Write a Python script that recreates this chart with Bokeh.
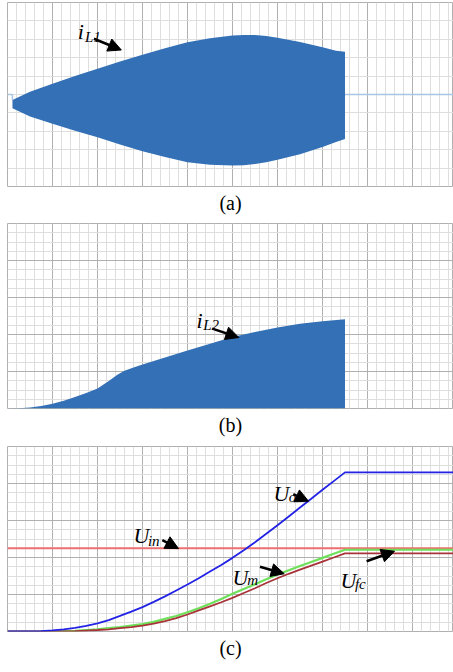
from bokeh.plotting import figure
from bokeh.layouts import column
from bokeh.models import SingleIntervalTicker, Arrow, NormalHead, Title
from bokeh.core.properties import value
from bokeh.embed import file_html
from bokeh.resources import INLINE

# ---- waveform data (time in grid divisions) ----
# (a) inductor current iL1: switching envelope (upper / lower edge)
t_a = [0.11, 0.5, 1.0, 1.5, 2.0, 2.5, 3.0, 3.5, 4.0, 4.5, 5.0, 5.25, 5.5, 5.75, 6.0, 6.5, 7.0, 7.3, 7.5]
iL1_upper = [-0.30, 0.15, 0.58, 1.00, 1.40, 1.80, 2.16, 2.52, 2.84, 3.06, 3.20, 3.24, 3.24, 3.18, 3.08, 2.85, 2.57, 2.38, 2.32]
iL1_lower = [-0.75, -1.20, -1.59, -1.97, -2.32, -2.72, -3.08, -3.40, -3.68, -3.82, -3.86, -3.84, -3.78, -3.68, -3.55, -3.25, -2.86, -2.58, -2.42]
# idle current before start and after stop
t_idle_pre = [0.0, 0.11]
iL1_idle_pre = [0.0, 0.0]
t_idle_post = [7.5, 9.92]
iL1_idle_post = [0.0, 0.0]

# (b) inductor current iL2 envelope
t_b = [0.0, 0.25, 0.5, 0.75, 1.0, 1.25, 1.5, 1.75, 2.0, 2.25, 2.45, 2.6, 2.8, 3.0,
       3.5, 4.0, 4.5, 5.0, 5.5, 6.0, 6.5, 7.0, 7.5]
iL2 = [0.0, 0.01, 0.03, 0.07, 0.13, 0.21, 0.31, 0.42, 0.54, 0.74, 0.92, 1.02, 1.11, 1.19,
       1.38, 1.57, 1.75, 1.93, 2.07, 2.19, 2.29, 2.36, 2.41]

# (c) voltages
t_c = [0.0, 0.25, 0.5, 0.75, 1.0, 1.25, 1.5, 1.75, 2.0, 2.25, 2.5, 2.75, 3.0, 3.25, 3.5, 3.75,
       4.0, 4.25, 4.5, 4.75, 5.0, 5.25, 5.5, 5.75, 6.0, 6.25, 6.5, 6.75, 7.0, 7.25, 7.5, 9.92]
U_o = [0.0, 0.0, 0.0, 0.01, 0.03, 0.06, 0.10, 0.155, 0.22, 0.31, 0.42, 0.535, 0.66, 0.80, 0.95, 1.11,
       1.27, 1.44, 1.62, 1.80, 1.99, 2.195, 2.41, 2.64, 2.87, 3.11, 3.35, 3.59, 3.83, 4.065, 4.30, 4.30]
U_m = [0.0, 0.0, 0.0, 0.0, 0.0, 0.01, 0.02, 0.04, 0.06, 0.09, 0.12, 0.16, 0.20, 0.26, 0.34, 0.42,
       0.52, 0.63, 0.75, 0.88, 1.02, 1.15, 1.28, 1.41, 1.54, 1.655, 1.77, 1.88, 1.99, 2.10, 2.21, 2.21]
U_fc = [0.0, 0.0, 0.0, 0.0, 0.0, 0.005, 0.01, 0.025, 0.04, 0.06, 0.09, 0.12, 0.16, 0.21, 0.28, 0.36,
        0.46, 0.57, 0.68, 0.79, 0.91, 1.04, 1.17, 1.31, 1.44, 1.56, 1.67, 1.78, 1.89, 2.00, 2.11, 2.11]
t_in = [0.0, 9.92]
U_in = [2.25, 2.25]

SERIF = "'Liberation Serif'"
MAJOR = "#b0b0b0"
MINOR = "#dedede"
FILL = "#3370b6"


def panel(height, y0, y1, bottom, light_y=False, y_minor=4):
    p = figure(width=453, height=height, x_range=(0, 446 / 45), y_range=(y0, y1),
               output_backend="svg", toolbar_location=None,
               min_border_left=7, min_border_right=0, min_border_top=2,
               min_border_bottom=bottom)
    p.axis.visible = False
    xt = SingleIntervalTicker(interval=1, num_minor_ticks=5)
    yt = SingleIntervalTicker(interval=1, num_minor_ticks=(0 if light_y else y_minor))
    p.xaxis.ticker = xt
    p.yaxis.ticker = yt
    p.xgrid.ticker = xt
    p.ygrid.ticker = yt
    p.xgrid.grid_line_color = MAJOR
    p.xgrid.minor_grid_line_color = MINOR
    p.ygrid.grid_line_color = MINOR if light_y else MAJOR
    p.ygrid.minor_grid_line_color = None if light_y else MINOR
    p.grid.grid_line_width = 1
    p.outline_line_color = "#b0b0b0"
    p.background_fill_color = "white"
    p.border_fill_color = "white"
    return p


def caption(p, txt):
    p.add_layout(Title(text=txt, align="center", text_font=SERIF, text_font_size="20px",
                       text_font_style="normal", text_color="black", standoff=7), "below")


def sublabel(p, x, y, main, sub, xs, ys, size="22px"):
    p.text(x=[x], y=[y], text=[main], text_font=value(SERIF), text_font_style="italic",
           text_font_size=size, text_color="black", text_baseline="alphabetic")
    p.text(x=[xs], y=[ys], text=[sub], text_font=value(SERIF), text_font_style="italic",
           text_font_size="15px", text_color="black", text_baseline="alphabetic")


def arrow(p, xs, ys, xe, ye):
    p.add_layout(Arrow(end=NormalHead(size=13, fill_color="black", line_color="black"),
                       x_start=xs, y_start=ys, x_end=xe, y_end=ye,
                       line_color="black", line_width=2.5))


# ---- (a) ----
pa = panel(221, -5, 5, 35, light_y=True)
pa.line(t_idle_pre, iL1_idle_pre, line_color="#a9c5e6", line_width=1.5)
pa.line(t_idle_post, iL1_idle_post, line_color="#a9c5e6", line_width=1.5)
pa.varea(x=t_a, y1=iL1_lower, y2=iL1_upper, fill_color=FILL)
pa.line([t_a[0], t_a[0]], [iL1_idle_pre[-1], iL1_upper[0]], line_color="#a9c5e6", line_width=1.5)
sublabel(pa, 1.56, 3.42, "i", "L1", 1.72, 3.15)
arrow(pa, 1.92, 3.03, 2.53, 2.42)
caption(pa, "(a)")

# ---- (b) ----
pb = panel(223, 0, 5, 36)
pb.varea(x=t_b, y1=[0.0] * len(t_b), y2=iL2, fill_color=FILL)
sublabel(pb, 4.2, 2.38, "i", "L2", 4.35, 2.27)
arrow(pb, 4.55, 2.16, 5.14, 1.92)
caption(pb, "(b)")

# ---- (c) ----
pc = panel(228, 0, 5, 41)
pc.line(t_in, U_in, line_color="#ee6f6f", line_width=2)
pc.line(t_c, U_m, line_color="#6ee05a", line_width=2.2)
pc.line(t_c, U_fc, line_color="#a8343a", line_width=1.8)
pc.line(t_c, U_o, line_color="#2323e6", line_width=1.8)
sublabel(pc, 2.8, 2.59, "U", "in", 3.12, 2.45)
arrow(pc, 3.44, 2.47, 3.80, 2.24)
sublabel(pc, 5.91, 3.72, "U", "o", 6.25, 3.64)
arrow(pc, 6.35, 3.71, 6.69, 3.52)
sublabel(pc, 5.0, 1.46, "U", "m", 5.33, 1.38)
arrow(pc, 5.61, 1.75, 6.15, 1.56)
sublabel(pc, 7.4, 1.38, "U", "fc", 7.72, 1.29)
arrow(pc, 7.98, 1.90, 8.6, 2.17)
caption(pc, "(c)")

layout = column(pa, pb, pc, spacing=0)
open("out.html", "w").write(file_html(layout, INLINE))
